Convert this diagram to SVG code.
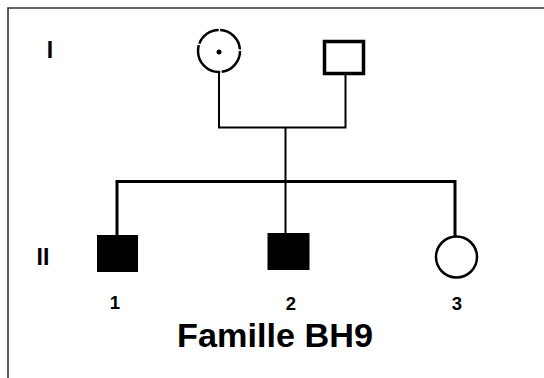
<svg xmlns="http://www.w3.org/2000/svg" width="544" height="378" viewBox="0 0 544 378">
<style>
.line{stroke:#000;fill:none;stroke-width:2}
.thick{stroke-width:3}
.lbl{font-family:"Liberation Sans",Arial,sans-serif;font-weight:bold;fill:#000;text-anchor:middle}
.open{fill:#fff;stroke:#000;stroke-width:2.5}
.aff{fill:#000;stroke:#000;stroke-width:1}
</style>
<rect x="0" y="0" width="544" height="378" fill="#fff"/>
<path d="M8 378 V8 H544" fill="none" stroke="#333" stroke-width="1.6"/>
<g id="connectors">
<path class="line" d="M219 73 V127.5 H345.5 V75"/>
<path class="line" d="M285.5 127.5 V234"/>
<path class="line thick" d="M117 236 V181.5 H455 V236"/>
</g>
<g id="gen-labels">
<text class="lbl" x="50" y="58" font-size="23">I</text>
<text class="lbl" x="43" y="265" font-size="23">II</text>
</g>
<g id="I-1">
<circle class="open" cx="219" cy="51" r="21" stroke-dasharray="30 1.5 40 1.5 25 1.5 30 1.5"/>
<circle cx="219" cy="52" r="2.5" fill="#000"/>
</g>
<g id="I-2">
<rect x="324.5" y="41.5" width="39" height="32" fill="#fff" stroke="#000" stroke-width="3.5"/>
</g>
<g id="II-1">
<rect class="aff" x="97.5" y="235.5" width="40" height="36"/>
<text class="lbl" x="115" y="309" font-size="18.5">1</text>
</g>
<g id="II-2">
<rect class="aff" x="268" y="233.5" width="41" height="36"/>
<text class="lbl" x="291" y="310" font-size="18.5">2</text>
</g>
<g id="II-3">
<circle class="open" cx="456.5" cy="257" r="20.5"/>
<text class="lbl" x="457" y="310" font-size="18.5">3</text>
</g>
<text class="lbl" x="275" y="347" font-size="33" textLength="196" lengthAdjust="spacingAndGlyphs">Famille BH9</text>
</svg>
